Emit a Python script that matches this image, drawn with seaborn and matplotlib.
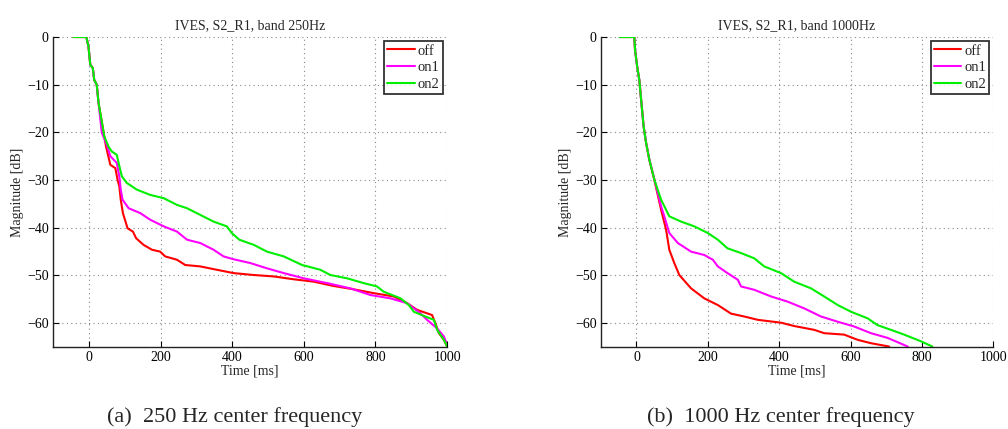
import numpy as np
import pandas as pd
import matplotlib
matplotlib.use("Agg")
import matplotlib.pyplot as plt
import seaborn as sns

sns.set_theme(style="white")
plt.rcParams['font.family'] = ['Liberation Serif', 'DejaVu Serif']
plt.rcParams['axes.unicode_minus'] = True

# ---------------- data: band 250 Hz ----------------
t250_off = [-43, -7, -1, 4, 11, 15, 22, 27, 36, 43, 48, 60, 74, 80, 85, 89, 95, 108, 123, 132, 153, 176, 199, 213,
            246, 269, 311, 357, 404, 460, 516, 572, 628, 683, 739, 795, 851, 888, 916, 958, 967, 977, 991, 1000]
m250_off = [0, 0, -2, -5.8, -6.5, -9, -10, -13.8, -17.7, -20.8, -23, -26.8, -27.5, -29.9, -31.3, -34.1, -36.9, -40.1,
            -40.8, -42.2, -43.6, -44.6, -45, -46, -46.7, -47.8, -48.1, -48.8, -49.5, -49.9, -50.2, -50.8, -51.3,
            -52.2, -52.9, -53.7, -54.4, -55.8, -57.2, -58.3, -60, -62.1, -63.5, -64.9]

t250_on1 = [-43, -7, -1, 4, 11, 15, 22, 27, 36, 50, 60, 69, 78, 85, 89, 94, 111, 143, 171, 209, 246, 274, 311, 348,
            376, 404, 451, 497, 544, 600, 665, 730, 786, 842, 888, 925, 944, 972, 991, 1000]
m250_on1 = [0, 0, -2, -5.8, -6.5, -9, -10, -13.8, -20, -22.6, -25, -25.7, -26.4, -29.2, -32, -34.1, -35.9, -36.9,
            -38.3, -39.7, -40.8, -42.5, -43.2, -44.6, -46, -46.6, -47.4, -48.5, -49.5, -50.6, -51.6, -52.7, -54.1,
            -54.8, -55.8, -57.9, -59.3, -61.1, -62.8, -64.5]

t250_on2 = [-43, -7, -1, 4, 11, 15, 22, 27, 36, 43, 55, 64, 78, 83, 92, 106, 134, 171, 209, 246, 274, 311, 348, 385,
            399, 420, 461, 497, 544, 595, 646, 674, 721, 767, 804, 823, 870, 893, 907, 939, 963, 972, 991, 1000]
m250_on2 = [0, 0, -2, -5.8, -6.5, -9, -10, -13.8, -17.7, -20.8, -23, -24, -24.7, -26.4, -29.2, -30.6, -32, -33.1,
            -33.8, -35.2, -35.9, -37.3, -38.7, -39.7, -41.1, -42.5, -43.6, -45, -46, -47.8, -48.8, -49.9, -50.6,
            -51.6, -52.3, -53.4, -54.8, -56.2, -57.6, -58.6, -59.3, -61.4, -63.5, -64.9]

# ---------------- data: band 1000 Hz ----------------
t1k_off = [-47, -6, -4, 2, 8, 13, 20, 27, 36, 50, 69, 83, 92, 106, 120, 153, 190, 228, 265, 302, 340, 405, 442, 498,
           526, 582, 620, 657, 708]
m1k_off = [0, 0, -2.7, -6.2, -9, -13.1, -18.7, -22.2, -25.7, -29.9, -36.2, -40.4, -44.6, -47.4, -49.9, -52.7,
           -54.8, -56.2, -58, -58.6, -59.3, -59.9, -60.6, -61.4, -62.1, -62.4, -63.5, -64.2, -64.9]

t1k_on1 = [-47, -6, -4, 2, 8, 13, 20, 27, 36, 55, 69, 78, 92, 116, 153, 190, 214, 228, 255, 284, 293, 330, 377, 424,
           470, 517, 564, 610, 657, 704, 760]
m1k_on1 = [0, 0, -2.7, -6.2, -9, -13.1, -18.7, -22.2, -25.7, -31.3, -35.5, -37.6, -41.1, -43.2, -45, -45.7, -46.7,
           -48.1, -49.5, -50.9, -52.3, -53, -54.4, -55.5, -56.9, -58.6, -59.7, -60.7, -62.1, -63.1, -64.9]

t1k_on2 = [-47, -6, -4, 2, 8, 13, 20, 27, 36, 50, 69, 92, 125, 162, 200, 228, 255, 293, 330, 358, 405, 442, 489, 526,
           564, 601, 648, 675, 713, 750, 797, 829]
m1k_on2 = [0, 0, -2.7, -6.2, -9, -13.1, -18.7, -22.2, -25.7, -29.9, -34.1, -37.6, -38.7, -39.7, -41.1, -42.5, -44.3,
           -45.3, -46.4, -48.1, -49.5, -51.3, -52.7, -54.4, -56.2, -57.6, -59, -60.4, -61.4, -62.4, -63.8, -64.9]

series_names = ["off", "on1", "on2"]
series_colors = ["#ff0000", "#ff00ff", "#00ee00"]
titles = ["IVES, S2_R1, band 250Hz", "IVES, S2_R1, band 1000Hz"]
captions = ["(a)  250 Hz center frequency", "(b)  1000 Hz center frequency"]
xticks = [0, 200, 400, 600, 800, 1000]
yticks = [0, -10, -20, -30, -40, -50, -60]

panels = [
    [(t250_off, m250_off), (t250_on1, m250_on1), (t250_on2, m250_on2)],
    [(t1k_off, m1k_off), (t1k_on1, m1k_on1), (t1k_on2, m1k_on2)],
]

fig = plt.figure(figsize=(10.08, 4.29), dpi=100)
ax_rects = [[0.0526, 0.1911, 0.391, 0.7226], [0.596, 0.1911, 0.3895, 0.7226]]
caption_x = [235 / 1008, 781 / 1008]

for i, rect in enumerate(ax_rects):
    ax = fig.add_axes(rect)
    for (t, m), name, col in zip(panels[i], series_names, series_colors):
        df = pd.DataFrame({"Time": t, "Mag": m})
        sns.lineplot(data=df, x="Time", y="Mag", ax=ax, color=col, label=name,
                     linewidth=1.5, estimator=None, sort=False)
    ax.set_xlim(-100, 1000)
    ax.set_ylim(-65, 0)
    ax.set_xticks(xticks)
    ax.set_yticks(yticks)
    ax.tick_params(direction="in", length=4, width=0.8, labelsize=10, pad=3,
                   top=False, right=False, bottom=True, left=True, colors="black")
    ax.grid(True, linestyle=(0, (1, 3)), color="#888888", linewidth=0.8)
    for side, s in ax.spines.items():
        if side in ("top", "right"):
            s.set_visible(False)
        else:
            s.set_visible(True)
            s.set_color("#222222")
            s.set_linewidth(1.0)
    ax.set_xlabel("Time [ms]", fontsize=10, labelpad=0)
    ax.set_ylabel("Magnitude [dB]", fontsize=10, labelpad=2)
    ax.set_title(titles[i], fontsize=10, pad=6)
    leg = ax.legend(loc="upper right", fontsize=10.5, frameon=True, fancybox=False,
                    borderaxespad=0.3, handlelength=1.9, handletextpad=0.2,
                    labelspacing=0.25, borderpad=0.2)
    leg.get_frame().set_edgecolor("black")
    leg.get_frame().set_linewidth(1.3)
    for h in leg.get_lines():
        h.set_linewidth(1.5)
    fig.text(caption_x[i], 1 - 417 / 429, captions[i], ha="center", va="center", fontsize=16)

fig.savefig("out.png", dpi=100)
